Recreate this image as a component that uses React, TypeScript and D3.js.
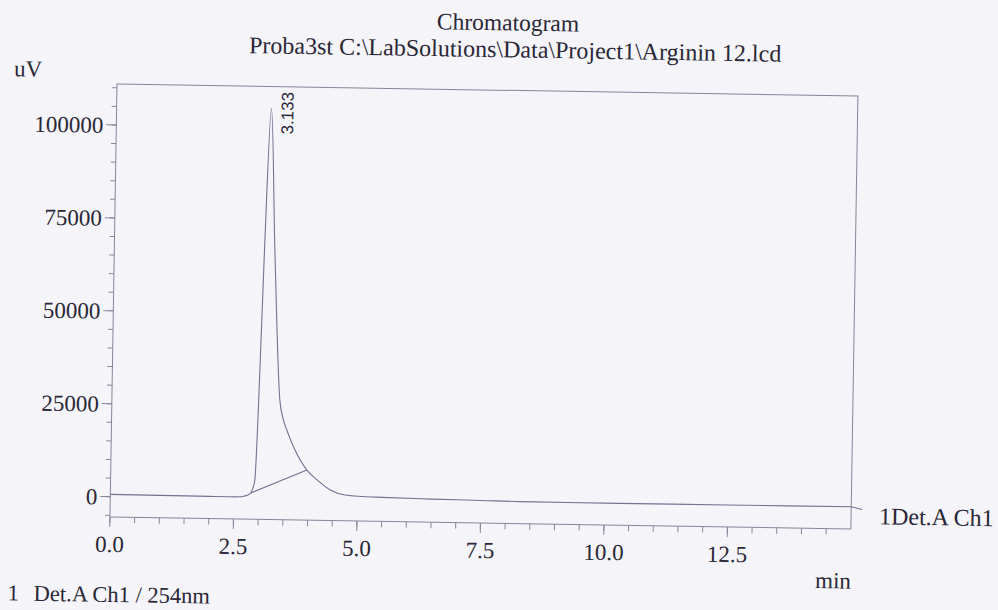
import * as d3 from 'd3';

// retention time (min) / detector signal (uV)
const times = [0, 1.0, 2.0, 2.42, 2.6, 2.7, 2.78, 2.84, 2.88, 2.92, 2.97, 3.04, 3.133, 3.25, 3.4, 3.47, 3.55, 3.72, 3.97, 4.18, 4.45, 4.75, 5.1, 5.5, 6.5, 7.5, 8.3, 10.3, 12.5, 15.0];
const signal = [620, 560, 500, 484, 520, 700, 1050, 1600, 2800, 5100, 25300, 67000, 105200, 67100, 26700, 21800, 18700, 13400, 8000, 5400, 2750, 1450, 1150, 1000, 750, 600, 450, 420, 450, 500];

// integration baseline drawn under the peak
const baselineTimes = [2.84, 3.97];
const baselineSignal = [1600, 8000];

const peakTime = 3.133;
const peakLabel = '3.133';

const yMajorTicks = [0, 25000, 50000, 75000, 100000];
const yMinorTicks = d3.range(-5000, 111000, 5000);
const xMajorTicks = [0, 2.5, 5, 7.5, 10, 12.5];
const xMinorTicks = d3.range(0, 15, 0.5);

const title = 'Chromatogram';
const subtitle = 'Proba3st C:\\LabSolutions\\Data\\Project1\\Arginin 12.lcd';
const channelLabel = '1Det.A Ch1';
const footer = 'Det.A Ch1 / 254nm';

const W = 998;
const H = 610;
const left = 117;
const top = 84;
const plotW = 741;
const plotH = 433;

const ink = '#2a2736';
const lineCol = '#77708f';
const frameCol = '#8a849a';
const font = "'Liberation Serif', 'Times New Roman', serif";

export default function App() {
  const x = d3.scaleLinear().domain([0, 15]).range([left, left + plotW]);
  const y = d3.scaleLinear().domain([-5460, 111040]).range([top + plotH, top]);

  const pts = times.map((t, i) => [t, signal[i]] as [number, number]);
  const line = d3
    .line<[number, number]>()
    .x((d) => x(d[0]))
    .y((d) => y(d[1]))
    .curve(d3.curveMonotoneX);

  const bx = baselineTimes.map((t) => x(t));
  const by = baselineSignal.map((v) => y(v));

  const lastX = x(times[times.length - 1]);
  const lastY = y(signal[signal.length - 1]);
  const peakY = y(d3.max(signal) ?? 0);
  const bottom = top + plotH;

  return (
    <svg
      width={W}
      height={H}
      style={{ position: 'absolute', left: 0, top: 0, display: 'block' }}
    >
      <rect width={W} height={H} fill="#f4f4f9" />
      {/* the scan sits a little skewed, so the whole sheet is turned */}
      <g transform={`rotate(0.93, ${left}, ${top})`} fontFamily={font} fill={ink}>
        <text x={507} y={24} fontSize={23.5} textAnchor="middle">
          {title}
        </text>
        <text x={514.6} y={51} fontSize={24} textAnchor="middle">
          {subtitle}
        </text>
        <text x={28} y={78} fontSize={23} textAnchor="middle">
          uV
        </text>

        <rect
          x={left}
          y={top}
          width={plotW}
          height={plotH}
          fill="none"
          stroke={frameCol}
          strokeWidth={1}
        />

        {yMinorTicks.map((v) => (
          <line
            key={`ym${v}`}
            x1={left - 5}
            x2={left}
            y1={y(v)}
            y2={y(v)}
            stroke={frameCol}
          />
        ))}
        {yMajorTicks.map((v) => (
          <g key={`yM${v}`}>
            <line x1={left - 10} x2={left} y1={y(v)} y2={y(v)} stroke={frameCol} />
            <text
              x={left - 13}
              y={y(v)}
              dy="0.35em"
              fontSize={23}
              textAnchor="end"
            >
              {v}
            </text>
          </g>
        ))}

        {xMinorTicks.map((t) => (
          <line
            key={`xm${t}`}
            x1={x(t)}
            x2={x(t)}
            y1={bottom}
            y2={bottom + 6}
            stroke={frameCol}
          />
        ))}
        {xMajorTicks.map((t) => (
          <g key={`xM${t}`}>
            <line x1={x(t)} x2={x(t)} y1={bottom} y2={bottom + 10} stroke={frameCol} />
            <text x={x(t)} y={bottom + 35} fontSize={23} textAnchor="middle">
              {d3.format('.1f')(t)}
            </text>
          </g>
        ))}
        <text x={841} y={576.7} fontSize={23} textAnchor="middle">
          min
        </text>

        <path d={line(pts) ?? ''} fill="none" stroke={lineCol} strokeWidth={1.1} />
        <line
          x1={bx[0]}
          y1={by[0]}
          x2={bx[1]}
          y2={by[1]}
          stroke={lineCol}
          strokeWidth={1.1}
        />
        <line
          x1={lastX}
          y1={lastY}
          x2={lastX + 11}
          y2={lastY + 2.5}
          stroke={lineCol}
          strokeWidth={1}
        />
        <text x={lastX + 28} y={lastY + 17} fontSize={24}>
          {channelLabel}
        </text>

        <text
          transform={`translate(${x(peakTime) + 22}, ${peakY + 26}) rotate(-90)`}
          fontFamily="'Liberation Sans', Arial, sans-serif"
          fontSize={17}
        >
          {peakLabel}
        </text>

        <text x={16} y={602} fontSize={22.5}>
          1
        </text>
        <text x={42} y={602} fontSize={22.5}>
          {footer}
        </text>
      </g>
    </svg>
  );
}
